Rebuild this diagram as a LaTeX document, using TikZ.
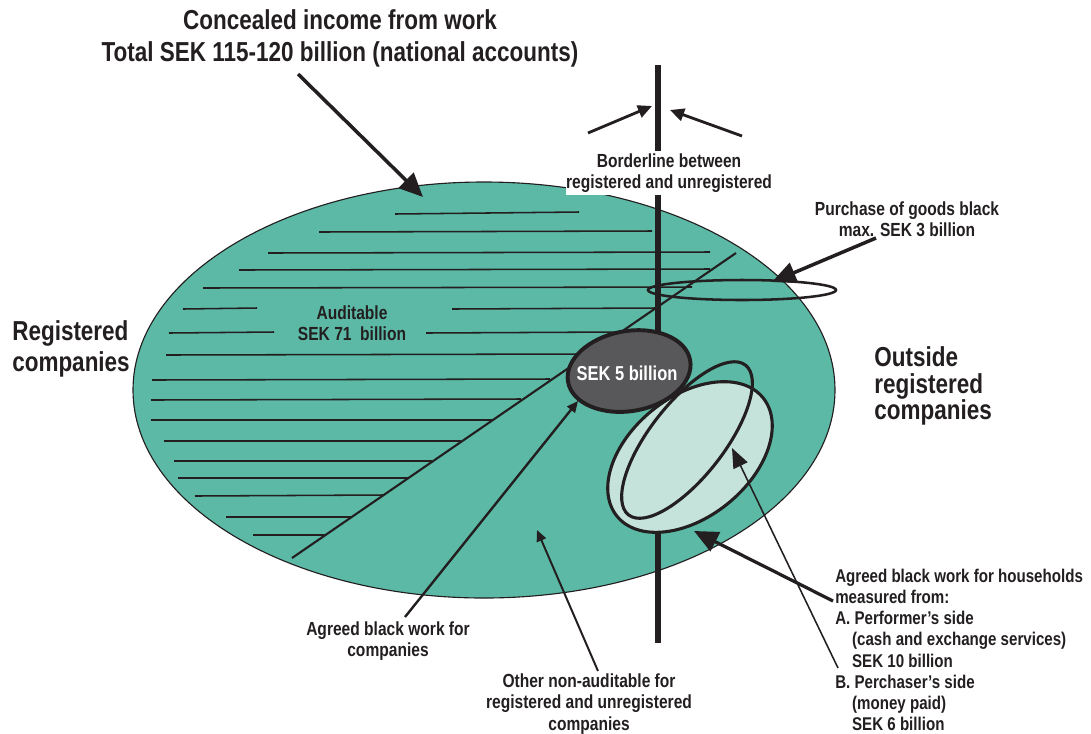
\documentclass[tikz,border=0pt]{standalone}
\usepackage{fontspec}
\setmainfont{Liberation Sans}[FakeStretch=0.82]
\usetikzlibrary{arrows.meta}

\definecolor{ovalgreen}{RGB}{91,185,165}
\definecolor{ovallight}{RGB}{198,227,219}
\definecolor{ovaldark}{RGB}{88,88,91}
\definecolor{ink}{RGB}{35,31,32}

\tikzset{
  bigtext/.style={inner sep=0pt, text=ink, align=left, font=\bfseries\fontsize{19.5}{21.5}\selectfont},
  smalltext/.style={inner sep=0pt, text=ink, align=center, font=\bfseries\fontsize{13.5}{15}\selectfont},
  hatch/.style={draw=ink, line width=1.1pt},
  outline/.style={draw=ink, line width=2.2pt},
  barline/.style={draw=ink, line width=4.6pt},
  bigarrow/.style={draw=ink, line width=2.5pt, -{Triangle[length=17pt,width=15pt]}},
  midarrow/.style={draw=ink, line width=2pt, -{Triangle[length=10pt,width=9pt]}},
  smallarrow/.style={draw=ink, line width=1.7pt, -{Triangle[length=8pt,width=7pt]}},
  thinarrow/.style={draw=ink, line width=1.1pt, -{Triangle[length=14pt,width=11pt]}},
}

\begin{document}
\begin{tikzpicture}[x=0.025cm,y=-0.025cm]
    \useasboundingbox (0,0) rectangle (1091,733);
    \coordinate (bigc) at (484,390);
    \coordinate (diaglo) at (292,558);
    \coordinate (diaghi) at (736,253);
    \coordinate (ringc) at (742,290);
    \coordinate (sekc) at (629,371);
    \coordinate (outc) at (690,457);
    \coordinate (inc) at (687,440);
    \coordinate (bartop) at (658,65);
    \coordinate (barbot) at (658,643);
    \fill [ovalgreen] (bigc) ellipse [x radius=351, y radius=208];
    \draw [ink, line width=0.8pt] (bigc) ellipse [x radius=351, y radius=208];
    \draw [hatch] (395,214) -- (579,212);
    \draw [hatch] (319,232) -- (652,231);
    \draw [hatch] (268,253) -- (710,252);
    \draw [hatch] (239,270) -- (710,269);
    \draw [hatch] (203,288) -- (692,287);
    \draw [hatch] (183,309) -- (257,308);
    \draw [hatch] (452,309) -- (656,308);
    \draw [hatch] (169,333) -- (274,332);
    \draw [hatch] (426,333) -- (618,332);
    \draw [hatch] (166,355) -- (586,354);
    \draw [hatch] (152,380) -- (550,379);
    \draw [hatch] (151,400) -- (521,399);
    \draw [hatch] (151,420) -- (492,420);
    \draw [hatch] (164,441) -- (461,441);
    \draw [hatch] (174,461) -- (432,461);
    \draw [hatch] (178,478) -- (408,478);
    \draw [hatch] (195,496) -- (383,495);
    \draw [hatch] (226,517) -- (351,517);
    \draw [hatch] (253,535) -- (325,535);
    \draw [hatch, line width=1.5pt] (diaglo) -- (diaghi);
    \draw [outline, line width=1.8pt] (ringc) ellipse [x radius=94, y radius=10];
    \node [smalltext, fill=white, inner ysep=1.5pt] (border) at (669,173) {Borderline between\\registered and unregistered};
    \draw [barline] (bartop) -- (bartop |- border.north);
    \draw [barline] (bartop |- border.south) -- (barbot);
    \draw [outline, fill=ovallight, rotate around={39:(outc)}] (outc) ellipse [x radius=94, y radius=60];
    \draw [outline, rotate around={52:(inc)}] (inc) ellipse [x radius=95, y radius=37];
    \draw [outline, line width=2.8pt, fill=ovaldark, rotate around={10:(sekc)}] (sekc) ellipse [x radius=62, y radius=40];
    \node [smalltext, text=white, font=\bfseries\fontsize{14.3}{15}\selectfont] (sek) at (627,373) {SEK 5 billion};
    \node [bigtext, align=center, anchor=north, font=\bfseries\fontsize{19.5}{22.8}\selectfont] (title) at (340,9) {Concealed income from work\\Total SEK 115-120 billion (national accounts)};
    \node [bigtext, anchor=west] (registered) at (12,349) {Registered\\companies};
    \node [bigtext, anchor=west, font=\bfseries\fontsize{19.5}{19}\selectfont] (outside) at (874,386) {Outside\\registered\\companies};
    \node [smalltext] (purchase) at (907,219) {Purchase of goods black\\max. SEK 3 billion};
    \node [smalltext] (audit) at (352,323) {Auditable\\SEK 71~~billion};
    \node [smalltext] (agreed) at (388,641) {Agreed black work for\\companies};
    \node [smalltext] (other) at (589,704) {Other non-auditable for\\registered and unregistered\\companies};
    \node [smalltext, align=left, anchor=north west, font=\bfseries\fontsize{13.1}{15}\selectfont] (house) at (835,569) {Agreed black work for households\\measured from:\\A. Performer's side\\\hspace*{12pt}(cash and exchange services)\\\hspace*{12pt}SEK 10 billion\\B. Perchaser's side\\\hspace*{12pt}(money paid)\\\hspace*{12pt}SEK 6 billion};
    \coordinate (titlefrom) at (298,74);
    \coordinate (titletip) at (423,197);
    \coordinate (leftfrom) at (588,133);
    \coordinate (lefttip) at (652,106);
    \coordinate (rightfrom) at (742,136);
    \coordinate (righttip) at (670,110);
    \coordinate (purchasefrom) at (876,238);
    \coordinate (purchasetip) at (772,282);
    \coordinate (agreedfrom) at (405,617);
    \coordinate (agreedtip) at (578,401);
    \coordinate (otherfrom) at (598,671);
    \coordinate (othertip) at (537,530);
    \coordinate (housefromA) at (833,601);
    \coordinate (housetipA) at (694,531);
    \coordinate (housefromB) at (838,668);
    \coordinate (housetipB) at (732,448);
    \draw [bigarrow] (titlefrom) -- (titletip);
    \draw [midarrow] (leftfrom) -- (lefttip);
    \draw [midarrow] (rightfrom) -- (righttip);
    \draw [bigarrow] (purchasefrom) -- (purchasetip);
    \draw [smallarrow] (agreedfrom) -- (agreedtip);
    \draw [smallarrow, line width=1.4pt] (otherfrom) -- (othertip);
    \draw [bigarrow, line width=2.3pt] (housefromA) -- (housetipA);
    \draw [thinarrow] (housefromB) -- (housetipB);
\end{tikzpicture}
\end{document}
